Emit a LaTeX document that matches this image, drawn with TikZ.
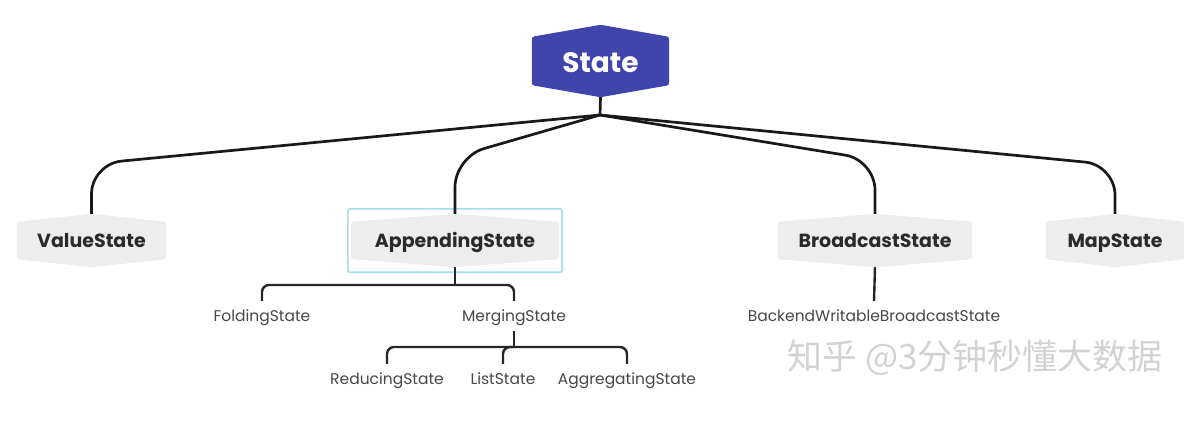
\documentclass[tikz,border=0pt]{standalone}
\usepackage{fontspec}
\setmainfont{Poppins}
\newfontfamily\cjk{Noto Sans CJK SC}
\usetikzlibrary{backgrounds,fit}
\definecolor{stateblue}{HTML}{3F45AA}
\definecolor{nodegrey}{HTML}{EDEDED}
\definecolor{nodetext}{HTML}{2A2A2A}
\definecolor{leaftext}{HTML}{474747}
\definecolor{selblue}{HTML}{A8DBF0}
\definecolor{wmgrey}{HTML}{D2D2D2}
\newcommand\hexfill[3]{%
  \begin{scope}[on background layer]
  \fill[#2,rounded corners=2.5pt] ([yshift=-#3]#1.north west) -- (#1.north) -- ([yshift=-#3]#1.north east) -- ([yshift=#3]#1.south east) -- (#1.south) -- ([yshift=#3]#1.south west) -- cycle;
  \end{scope}}
\tikzset{
  rootnode/.style={inner sep=0pt, text=white, text height=24pt, text depth=1pt, font=\fontsize{28}{30}\selectfont\bfseries},
  midnode/.style={inner sep=0pt, minimum height=53pt, text height=17pt, text depth=4pt, text=nodetext, font=\fontsize{19}{22}\selectfont\bfseries},
  leafnode/.style={inner sep=0pt, minimum height=30pt, text height=14pt, text depth=3.5pt, text=leaftext, font=\fontsize{15.5}{18}\selectfont},
  conn/.style={line width=2.7pt, black!90},
  subconn/.style={line width=2.4pt, black!85, rounded corners=7pt},
  selbox/.style={draw=selblue, line width=1.6pt, rounded corners=2pt, inner xsep=3pt, inner ysep=5pt},
  wm/.style={inner sep=0pt, text=wmgrey, font=\cjk\fontsize{35}{38}\selectfont}
}
\begin{document}
\begin{tikzpicture}[x=1pt,y=-1pt]
\useasboundingbox (0,0) rectangle (1192,425);
% nodes
\node[rootnode, minimum width=137pt, minimum height=72pt] (root) at (600.5,61) {State};
\hexfill{root}{stateblue}{12pt}
\node[midnode, minimum width=149pt] (vs) at (91.5,240.5) {ValueState};
\hexfill{vs}{nodegrey}{8pt}
\node[midnode, minimum width=208pt] (ap) at (455,240.5) {AppendingState};
\hexfill{ap}{nodegrey}{8pt}
\node[midnode, minimum width=194pt] (bs) at (875,240.5) {BroadcastState};
\hexfill{bs}{nodegrey}{8pt}
\node[midnode, minimum width=138pt] (ms) at (1115,240.5) {MapState};
\hexfill{ms}{nodegrey}{8pt}
\node[selbox, fit=(ap)] (sel) {};
% leaves
\node[leafnode] (fold) at (262,316) {FoldingState};
\node[leafnode] (merge) at (514,316) {MergingState};
\node[leafnode] (bwbs) at (874,316) {BackendWritableBroadcastState};
\node[leafnode] (red) at (387,379) {ReducingState};
\node[leafnode] (list) at (503,379) {ListState};
\node[leafnode] (agg) at (627,379) {AggregatingState};
% watermark
\node[wm] (wmark) at (975,358) {知乎 @3分钟秒懂大数据};
% connectors
\coordinate (hub) at (600,115);
\draw[conn] (root.south) -- (hub);
\draw[conn, rounded corners=30pt] (hub) -- (vs.north |- 0,164) -- (vs.north);
\draw[conn, rounded corners=30pt] (hub) -- (ap.north |- 0,157) -- (ap.north);
\draw[conn, rounded corners=30pt] (hub) -- (bs.north |- 0,160) -- (bs.north);
\draw[conn, rounded corners=30pt] (hub) -- (ms.north |- 0,165) -- (ms.north);
\coordinate (jA) at (455,285);
\draw[subconn] (ap.south) -- (jA);
\draw[subconn] (jA) -| (fold.north);
\draw[subconn] (jA) -| (merge.north);
\coordinate (jM) at (514,347);
\draw[subconn] (merge.south) -- (jM);
\draw[subconn] (jM) -| (red.north);
\draw[subconn] (jM) -| (list.north);
\draw[subconn] (jM) -| (agg.north);
\draw[subconn] (bs.south) -- (bwbs.north);
\end{tikzpicture}
\end{document}
